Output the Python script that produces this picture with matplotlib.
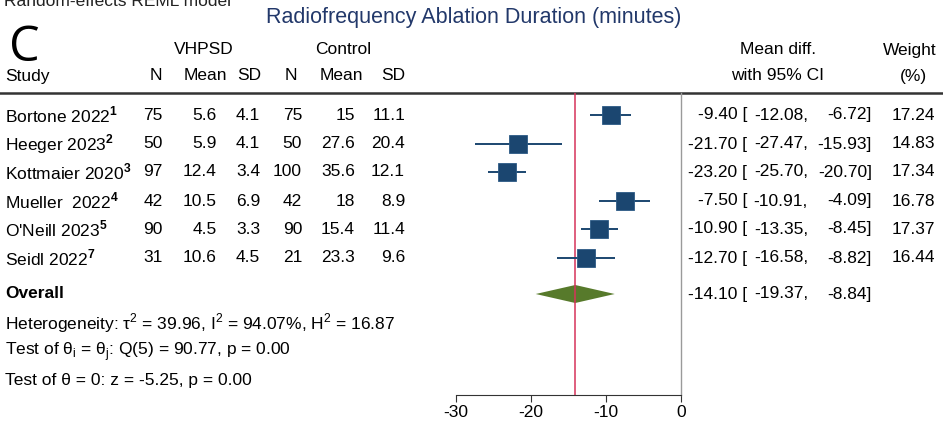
import numpy as np
import matplotlib.pyplot as plt
from matplotlib.patches import Polygon

plt.rcParams['font.family'] = ['Liberation Sans', 'DejaVu Sans']
plt.rcParams['mathtext.fontset'] = 'custom'
plt.rcParams['mathtext.rm'] = 'Liberation Sans'
plt.rcParams['mathtext.bf'] = 'Liberation Sans:bold'

# data
studies = ["Bortone 2022", "Heeger 2023", "Kottmaier 2020", "Mueller  2022", "O'Neill 2023", "Seidl 2022"]
refs = ["1", "2", "3", "4", "5", "7"]
n_vhpsd = [75, 50, 97, 42, 90, 31]
mean_vhpsd = ["5.6", "5.9", "12.4", "10.5", "4.5", "10.6"]
sd_vhpsd = ["4.1", "4.1", "3.4", "6.9", "3.3", "4.5"]
n_ctrl = [75, 50, 100, 42, 90, 21]
mean_ctrl = ["15", "27.6", "35.6", "18", "15.4", "23.3"]
sd_ctrl = ["11.1", "20.4", "12.1", "8.9", "11.4", "9.6"]
md = [-9.40, -21.70, -23.20, -7.50, -10.90, -12.70]
ci_low = [-12.08, -27.47, -25.70, -10.91, -13.35, -16.58]
ci_high = [-6.72, -15.93, -20.70, -4.09, -8.45, -8.82]
weight = [17.24, 14.83, 17.34, 16.78, 17.37, 16.44]
overall = (-14.10, -19.37, -8.84)
xticks = [-30, -20, -10, 0]

W, H = 943, 422
BLUE = "#1b4670"
GREEN = "#577a2b"
RED = "#d6335a"
FS = 12.5

fig = plt.figure(figsize=(W / 100, H / 100), dpi=100)
tx = fig.add_axes([0, 0, 1, 1])
tx.set_xlim(0, W)
tx.set_ylim(H, 0)
tx.axis("off")

# forest panel, pixel rows shared with text axis
x0, x1, y_top, y_bot = 456, 681, 93, 395
ax = fig.add_axes([x0 / W, 1 - y_bot / H, (x1 - x0) / W, (y_bot - y_top) / H])
ax.set_xlim(-30, 0)
ax.set_ylim(y_bot, y_top)
ax.patch.set_visible(False)
for s in ["top", "right", "left"]:
    ax.spines[s].set_visible(False)
ax.spines["bottom"].set_color("#333333")
ax.set_yticks([])
ax.set_xticks(xticks)
ax.set_xticklabels([str(t) for t in xticks])
ax.tick_params(axis="x", length=5, labelsize=FS, color="#333333", pad=2)

rows = [115, 144, 172, 201, 229, 258]
y_over = 294

ax.axvline(0, color="#9a9a9a", lw=1.0, clip_on=False)
ax.axvline(overall[0], color=RED, lw=1.1)

for i, y in enumerate(rows):
    ax.plot([ci_low[i], ci_high[i]], [y, y], color=BLUE, lw=1.4, solid_capstyle="butt")
    ax.plot(md[i], y, marker="s", ms=13.5 * np.sqrt(weight[i] / 17.3), color=BLUE,
            mec="#2c5a85", mew=0.6)

ax.add_patch(Polygon([[overall[1], y_over], [overall[0], y_over - 9],
                      [overall[2], y_over], [overall[0], y_over + 9]],
                     closed=True, color=GREEN, lw=0))

# header
tx.text(4, 1, "Random-effects REML model", fontsize=FS, va="center", ha="left", color="#222222")
tx.text(474, 18, "Radiofrequency Ablation Duration (minutes)", fontsize=15.5,
        color="#22386a", ha="center", va="center")
tx.text(9, 61, "C", fontsize=35, family="Open Sans", ha="left", va="baseline", color="black")
tx.text(204, 50, "VHPSD", fontsize=FS, ha="center", va="center")
tx.text(343, 50, "Control", fontsize=FS, ha="center", va="center")
tx.text(778, 50, "Mean diff.", fontsize=FS, ha="center", va="center")
tx.text(937, 50, "Weight", fontsize=FS, ha="right", va="center")
tx.text(5, 76, "Study", fontsize=FS, ha="left", va="center")
head_x = [156, 205, 249, 291, 341, 393]
for hx, lab in zip(head_x, ["N", "Mean", "SD", "N", "Mean", "SD"]):
    tx.text(hx, 76, lab, fontsize=FS, ha="center", va="center")
tx.text(778, 76, "with 95% CI", fontsize=FS, ha="center", va="center")
tx.text(913, 76, "(%)", fontsize=FS, ha="center", va="center")
tx.plot([0, W], [93, 93], color="#333333", lw=1.8)

# study rows
col_x = [163, 217, 260, 302, 355, 405]
for i, y in enumerate(rows):
    tx.text(5, y, studies[i] + r"$^{\mathbf{" + refs[i] + "}}$", fontsize=FS, ha="left", va="center")
    vals = [str(n_vhpsd[i]), mean_vhpsd[i], sd_vhpsd[i], str(n_ctrl[i]), mean_ctrl[i], sd_ctrl[i]]
    for cx, v in zip(col_x, vals):
        tx.text(cx, y, v, fontsize=FS, ha="right", va="center")
    tx.text(747, y, f"{md[i]:.2f} [", fontsize=FS, ha="right", va="center")
    tx.text(808, y, f"{ci_low[i]:.2f},", fontsize=FS, ha="right", va="center")
    tx.text(872, y, f"{ci_high[i]:.2f}]", fontsize=FS, ha="right", va="center")
    tx.text(935, y, f"{weight[i]:.2f}", fontsize=FS, ha="right", va="center")

# overall
tx.text(5, y_over, "Overall", fontsize=FS, weight="bold", ha="left", va="center")
tx.text(747, y_over, f"{overall[0]:.2f} [", fontsize=FS, ha="right", va="center")
tx.text(808, y_over, f"{overall[1]:.2f},", fontsize=FS, ha="right", va="center")
tx.text(872, y_over, f"{overall[2]:.2f}]", fontsize=FS, ha="right", va="center")

tx.text(5, 323, "Heterogeneity: τ$^2$ = 39.96, I$^2$ = 94.07%, H$^2$ = 16.87",
        fontsize=FS, ha="left", va="center")
tx.text(5, 352, r"Test of θ$_\mathrm{i}$ = θ$_\mathrm{j}$: Q(5) = 90.77, p = 0.00",
        fontsize=FS, ha="left", va="center")
tx.text(5, 380, "Test of θ = 0: z = -5.25, p = 0.00", fontsize=FS, ha="left", va="center")

fig.savefig("out.png", dpi=100)
